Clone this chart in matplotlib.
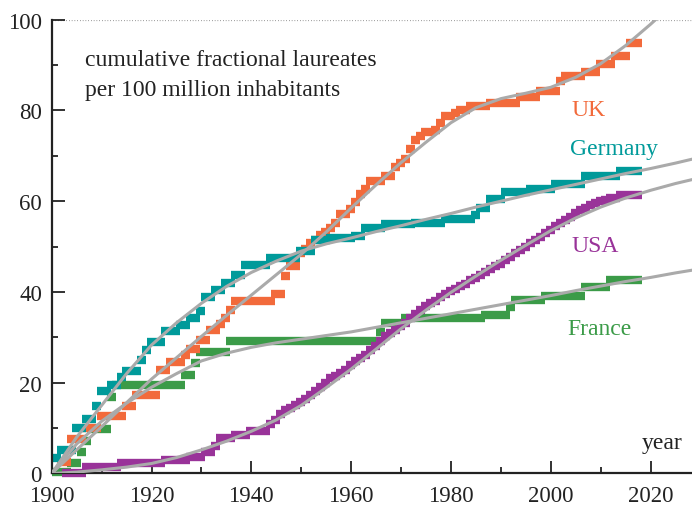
import matplotlib
matplotlib.use("Agg")
import matplotlib.pyplot as plt

plt.rcParams['font.family'] = ['Liberation Serif', 'DejaVu Serif']

# step data: year where a new level starts, and that level
uk_years = [1901, 1903, 1906, 1909, 1914, 1916, 1921, 1923, 1926, 1927, 1929, 1931,
            1933, 1934, 1935, 1936, 1944, 1946, 1947, 1949, 1950, 1951, 1952, 1953,
            1954, 1955, 1956, 1957, 1959, 1960, 1961, 1962, 1963, 1966, 1968, 1969,
            1970, 1971, 1972, 1973, 1974, 1976, 1977, 1978, 1980, 1981, 1983, 1987,
            1993, 1997, 2001, 2002, 2006, 2009, 2012, 2015]
uk_vals = [2.5, 7.6, 10.0, 12.6, 14.8, 17.2, 22.9, 24.5, 26.0, 27.5, 29.5, 31.7,
           33.0, 34.3, 36.0, 38.0, 39.6, 43.5, 45.7, 48.5, 49.5, 50.7, 51.5, 52.5,
           53.3, 54.2, 55.2, 57.2, 58.2, 59.8, 61.5, 62.8, 64.4, 65.5, 67.6, 68.4,
           69.2, 71.5, 73.4, 74.3, 75.2, 75.8, 77.3, 78.7, 79.5, 80.2, 81.0, 81.6,
           82.9, 84.3, 86.5, 87.6, 88.4, 90.2, 92.0, 94.8]

de_years = [1900, 1901, 1904, 1906, 1908, 1909, 1911, 1913, 1914, 1917, 1918, 1919,
            1922, 1925, 1927, 1929, 1930, 1932, 1934, 1936, 1938, 1943, 1949, 1952,
            1955, 1960, 1962, 1966, 1972, 1978, 1984, 1985, 1987, 1990, 1995, 2000,
            2006, 2013]
de_vals = [3.5, 5.2, 10.0, 12.0, 14.8, 18.1, 19.5, 21.3, 22.5, 25.0, 27.2, 29.0,
           31.5, 32.8, 34.3, 35.9, 39.0, 40.4, 42.0, 43.8, 46.0, 47.5, 49.1, 51.5,
           52.0, 52.3, 54.2, 54.9, 55.3, 56.0, 57.0, 58.6, 60.4, 62.0, 62.6, 63.7,
           65.6, 66.7]

us_years = [1902, 1906, 1913, 1922, 1927, 1930, 1932, 1933, 1936, 1939, 1943, 1944,
            1945, 1946, 1947, 1948, 1949, 1950, 1951, 1952, 1953, 1954, 1955, 1956,
            1957, 1958, 1959, 1960, 1961, 1962, 1963, 1964, 1965, 1966, 1967, 1968,
            1969, 1970, 1971, 1972, 1973, 1974, 1975, 1976, 1977, 1978, 1979, 1980,
            1981, 1982, 1983, 1984, 1985, 1986, 1987, 1988, 1989, 1990, 1991, 1992,
            1993, 1994, 1995, 1996, 1997, 1998, 1999, 2000, 2001, 2002, 2003, 2004,
            2005, 2006, 2007, 2008, 2009, 2010, 2011, 2013]
us_vals = [0.2, 1.4, 2.3, 3.0, 3.6, 4.7, 6.1, 7.8, 8.5, 9.3, 10.9, 11.8,
           13.2, 13.9, 14.5, 15.0, 15.8, 16.5, 17.2, 18.2, 19.0, 20.0, 21.0, 21.5,
           22.2, 22.8, 23.8, 24.8, 25.5, 26.1, 27.2, 28.1, 29.3, 30.2, 31.0, 31.7,
           32.5, 33.2, 34.3, 35.2, 36.0, 36.8, 37.5, 38.1, 39.0, 39.6, 40.2, 40.7,
           41.3, 41.8, 42.6, 43.1, 43.7, 44.5, 45.1, 45.7, 46.2, 47.0, 47.6, 48.5,
           49.2, 50.0, 50.7, 51.4, 52.2, 52.9, 53.7, 54.5, 55.2, 55.8, 56.6, 57.4,
           58.0, 58.6, 59.1, 59.6, 60.0, 60.3, 60.7, 61.3]

fr_years = [1900, 1903, 1905, 1906, 1907, 1911, 1912, 1926, 1928, 1929, 1935, 1965,
            1966, 1970, 1986, 1991, 1992, 1998, 2006, 2011]
fr_vals = [0.3, 2.4, 4.8, 7.1, 9.7, 16.8, 19.5, 21.8, 24.3, 26.8, 29.2, 31.2,
           33.2, 34.3, 35.0, 36.7, 38.3, 39.2, 41.0, 42.7]

last_year = 2017.5

# smooth fits, read every 5 years
fit_years = [1900, 1905, 1910, 1915, 1920, 1925, 1930, 1935, 1940, 1945, 1950, 1955,
             1960, 1965, 1970, 1975, 1980, 1985, 1990, 1995, 2000, 2005, 2010, 2015,
             2020, 2025, 2030]
uk_fit = [0, 5.2, 10.3, 15.6, 20.8, 25.5, 30.2, 34.8, 39.3, 43.8, 48.3, 53.2,
          58.5, 63.6, 68.5, 73.0, 77.3, 80.6, 82.6, 83.8, 85.1, 87.3, 90.3, 94.3,
          99.0, 104.0, 106.0]
de_fit = [0, 8.0, 15.0, 22.0, 28.3, 33.2, 37.5, 41.2, 44.3, 46.8, 49.0, 50.6,
          51.9, 53.3, 54.6, 56.0, 57.3, 58.7, 60.0, 61.3, 62.5, 63.7, 64.9, 66.1,
          67.2, 68.4, 69.7]
us_fit = [0, 0.3, 0.8, 1.4, 2.2, 3.5, 5.2, 7.1, 9.3, 11.8, 15.0, 18.9,
          23.0, 27.4, 31.9, 36.0, 39.9, 43.5, 47.0, 50.3, 53.5, 56.3, 58.7, 60.7,
          62.4, 63.9, 65.2]
fr_fit = [0, 6.5, 11.5, 15.5, 19.0, 22.0, 24.8, 26.5, 27.8, 28.8, 29.6, 30.4,
          31.2, 32.2, 33.2, 34.2, 35.2, 36.2, 37.2, 38.2, 39.2, 40.3, 41.3, 42.3,
          43.2, 44.2, 45.1]

colors = {'UK': '#f26a3b', 'Germany': '#009a9a', 'USA': '#993399', 'France': '#3b9b48'}

fig = plt.figure(figsize=(6.92, 5.06), dpi=100)
ax = fig.add_axes([0.0747, 0.0623, 0.9253, 0.8968])

series = [('France', fr_years, fr_vals), ('UK', uk_years, uk_vals),
          ('Germany', de_years, de_vals), ('USA', us_years, us_vals)]
for name, yrs, vals in series:
    ends = yrs[1:] + [last_year]
    ax.hlines(vals, yrs, [e + 0.8 for e in ends], colors=colors[name],
              linewidth=6.0, zorder=2, clip_on=False)

for fit in [uk_fit, de_fit, us_fit, fr_fit]:
    ax.plot(fit_years, fit, color='#aaaaaa', lw=2.2, zorder=3,
            solid_capstyle='round')

ax.axhline(100, color='#888888', ls=(0, (0.6, 1.6)), lw=0.9, zorder=1)

ax.set_xlim(1900, 2028.3)
ax.set_ylim(0, 100)

for s in ['top', 'right']:
    ax.spines[s].set_visible(False)
for s in ['left', 'bottom']:
    ax.spines[s].set_linewidth(1.6)
    ax.spines[s].set_color('#222222')

ax.set_xticks(range(1900, 2021, 20))
ax.set_xticks(range(1910, 2011, 20), minor=True)
ax.set_yticks(range(0, 101, 20))
ax.set_yticks(range(10, 91, 20), minor=True)
ax.tick_params(which='both', direction='in', color='#222222', width=1.3,
               labelsize=16.5, labelcolor='#222222')
ax.tick_params(which='major', length=9)
ax.tick_params(which='minor', length=4.5)
ax.tick_params(axis='x', pad=8)
ax.tick_params(axis='y', pad=7)

ax.text(1906.6, 90.0, 'cumulative fractional laureates', fontsize=17,
        color='#222222', va='baseline')
ax.text(1906.6, 83.4, 'per 100 million inhabitants', fontsize=17,
        color='#222222', va='baseline')

ax.text(2004.1, 79.0, 'UK', fontsize=17, color=colors['UK'], va='baseline')
ax.text(2003.9, 70.3, 'Germany', fontsize=17, color=colors['Germany'], va='baseline')
ax.text(2004.1, 49.0, 'USA', fontsize=17, color=colors['USA'], va='baseline')
ax.text(2003.4, 30.8, 'France', fontsize=17, color=colors['France'], va='baseline')
ax.text(2018.3, 5.6, 'year', fontsize=17, color='#222222', va='baseline')

fig.savefig('out.png', dpi=100)
